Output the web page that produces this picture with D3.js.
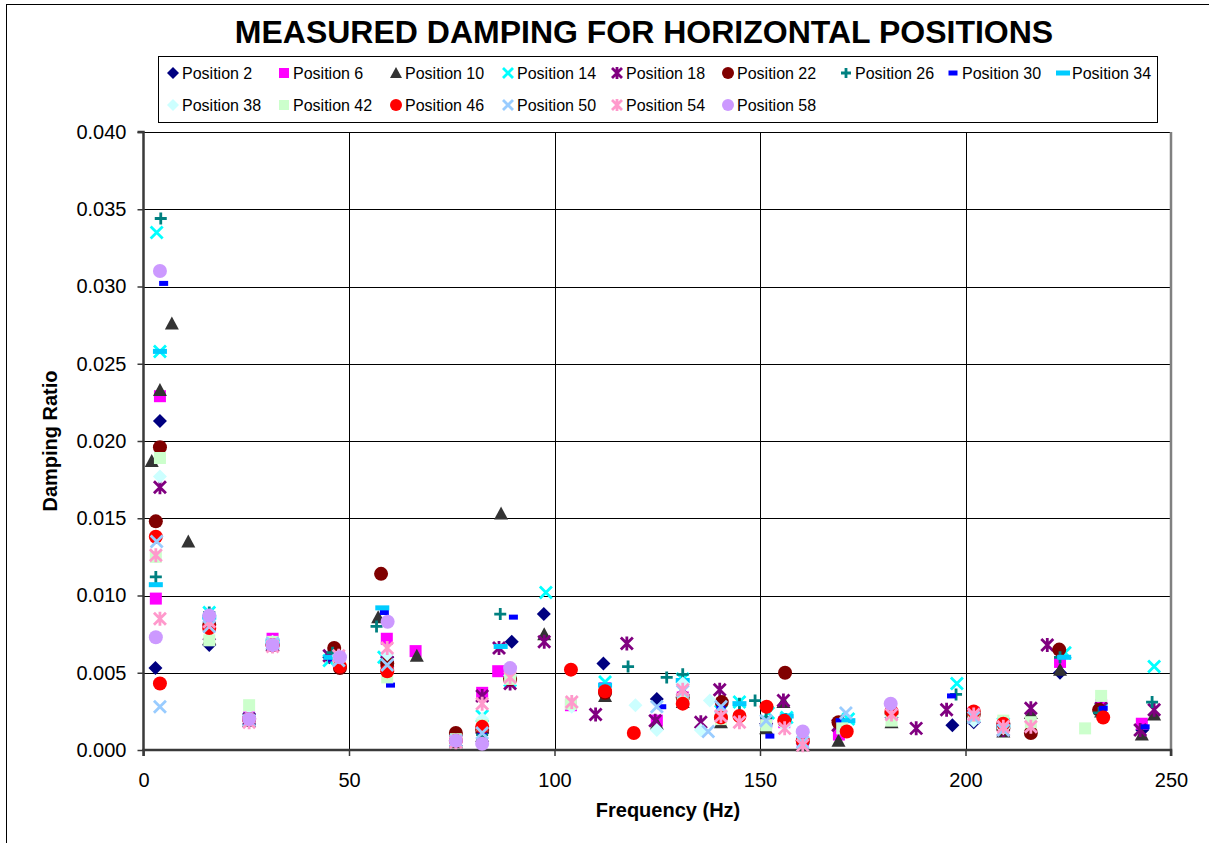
<!DOCTYPE html>
<html><head><meta charset="utf-8">
<script src="https://cdn.jsdelivr.net/npm/d3@7"></script>
<style>
body{margin:0;background:#fff;}
text{font-family:"Liberation Sans",Arial,sans-serif;}
</style></head>
<body><svg id="c" width="1209" height="843"></svg>
<script>
// ---------- data ----------
const seriesNames = ["Position 2","Position 6","Position 10","Position 14","Position 18","Position 22","Position 26","Position 30","Position 34","Position 38","Position 42","Position 46","Position 50","Position 54","Position 58"];
const xTicks = [0,50,100,150,200,250];
const yTicks = [0,0.005,0.010,0.015,0.020,0.025,0.030,0.035,0.040];

const pos2 = [[2.9,0.0053],[4.0,0.0213],[16,0.0068],[25.7,0.0021],[31.4,0.0068],[45.2,0.0060],[59.3,0.0060],[76,0.0006],[82.4,0.0011],[89.6,0.0070],[97.4,0.0088],[111.9,0.0056],[124.9,0.0033],[131.2,0.0036],[140.5,0.0020],[151.5,0.0017],[160.4,0.0004],[169.5,0.0015],[182,0.0021],[196.8,0.0016],[202,0.0018],[209.2,0.0013],[223,0.0050],[233,0.0024],[243,0.0013]];
const pos6 = [[3.0,0.0098],[4.0,0.0229],[16,0.0080],[25.7,0.0021],[31.4,0.0072],[47.5,0.0060],[59.2,0.0072],[66.2,0.0064],[76,0.0006],[82.4,0.0037],[86.3,0.0051],[104,0.0029],[112.3,0.0040],[124.9,0.0019],[131.2,0.0034],[140.5,0.0022],[151.5,0.0018],[155.9,0.0018],[160.4,0.0005],[169.2,0.0010],[182,0.0023],[202,0.0024],[209.2,0.0016],[223,0.0057],[233,0.0029],[242.9,0.0017]];
const pos10 = [[2.0,0.0187],[4.0,0.0233],[6.9,0.0276],[10.9,0.0135],[16,0.0072],[25.7,0.0019],[31.4,0.0068],[46.5,0.0062],[57.1,0.0086],[59.3,0.0058],[66.5,0.0061],[76,0.0005],[82.4,0.0009],[87.0,0.0153],[97.5,0.0075],[112.3,0.0035],[124.9,0.0017],[131.2,0.0031],[140.5,0.0018],[151.5,0.0014],[155.7,0.0031],[160.4,0.0003],[169.1,0.0006],[182,0.0018],[209.2,0.0012],[215.9,0.0024],[223,0.0052],[233,0.0025],[242.9,0.0010],[245.9,0.0023]];
const pos14 = [[3.2,0.0335],[4.0,0.0258],[16,0.0089],[25.7,0.0020],[31.4,0.0069],[45.2,0.0058],[58.5,0.0060],[76,0.0006],[82.4,0.0022],[89.2,0.0045],[97.9,0.0102],[112.3,0.0044],[131.2,0.0046],[140.5,0.0025],[145.0,0.0031],[152,0.0024],[156.5,0.0021],[160.4,0.0008],[171.5,0.0020],[197.9,0.0043],[202,0.0022],[209.2,0.0017],[224.2,0.0063],[233,0.0026],[245.9,0.0054]];
const pos18 = [[4.0,0.0170],[16,0.0075],[25.7,0.0020],[31.4,0.0068],[45.2,0.0061],[59.3,0.0057],[76,0.0006],[82.4,0.0035],[86.5,0.0066],[89.2,0.0043],[97.5,0.0070],[110.0,0.0023],[117.6,0.0069],[124.5,0.0019],[135.6,0.0018],[140.2,0.0039],[155.7,0.0032],[169,0.0016],[188.0,0.0014],[195.4,0.0026],[202,0.0021],[209.2,0.0013],[215.9,0.0027],[219.9,0.0068],[233,0.0027],[242.5,0.0013],[245.9,0.0026]];
const pos22 = [[3.0,0.0148],[4.0,0.0196],[16,0.0081],[25.7,0.0020],[31.4,0.0068],[46.4,0.0066],[47.8,0.0053],[57.8,0.0114],[59.3,0.0056],[76,0.0011],[82.4,0.0013],[89.2,0.0046],[112.3,0.0037],[131.2,0.0034],[140.7,0.0031],[156.1,0.0050],[160.4,0.0006],[169.1,0.0018],[182,0.0024],[202,0.0023],[209.2,0.0014],[215.9,0.0011],[222.8,0.0065],[232.5,0.0026]];
const pos26 = [[3.0,0.0112],[4.2,0.0344],[16,0.0089],[25.7,0.0019],[31.4,0.0067],[46,0.0063],[56.7,0.0080],[76,0.0005],[82.4,0.0010],[86.8,0.0088],[117.9,0.0054],[127.3,0.0047],[131.2,0.0049],[145,0.0030],[148.8,0.0032],[151.5,0.0021],[156.3,0.0020],[170,0.0019],[182,0.0022],[197.7,0.0036],[202,0.0024],[209.2,0.0015],[223,0.0060],[232.5,0.0024],[245.4,0.0031]];
const pos30 = [[4.9,0.0302],[16,0.0083],[31.4,0.0069],[46,0.0059],[58.6,0.0089],[60.1,0.0042],[82.4,0.0012],[90.0,0.0086],[126.1,0.0028],[140.5,0.0027],[152.4,0.0009],[169.5,0.0019],[196.6,0.0035],[202,0.0020],[233.5,0.0027],[243.7,0.0015]];
const pos34 = [[3.0,0.0107],[4.0,0.0258],[16,0.0086],[31.4,0.0070],[45.5,0.0060],[58.1,0.0092],[86.9,0.0067],[112.3,0.0042],[131.2,0.0045],[145,0.0030],[156.5,0.0022],[171.5,0.0019],[209.2,0.0016],[224,0.0060]];
const pos38 = [[4.0,0.0177],[16,0.0078],[25.7,0.0022],[31.4,0.0070],[47.5,0.0061],[59.3,0.0062],[76,0.0006],[82.4,0.0020],[89.2,0.0048],[104.2,0.0028],[119.7,0.0029],[124.9,0.0013],[131.2,0.0043],[135.6,0.0013],[137.8,0.0032],[140.5,0.0024],[156,0.0016],[160.4,0.0007],[182,0.0022],[202,0.0019],[209.2,0.0014]];
const pos42 = [[3.0,0.0125],[4.0,0.0189],[16,0.0071],[25.7,0.0029],[31.4,0.0070],[47.5,0.0058],[59.3,0.0047],[76,0.0007],[82.4,0.0016],[89.2,0.0046],[104,0.0030],[131.2,0.0033],[140.5,0.0020],[151.5,0.0016],[160.4,0.0008],[170,0.0014],[182,0.0019],[202,0.0022],[209.2,0.0019],[215.9,0.0018],[229.1,0.0014],[233.0,0.0035]];
const pos46 = [[4.0,0.0043],[3.0,0.0138],[16,0.0079],[25.7,0.0020],[31.4,0.0068],[47.8,0.0054],[59.3,0.0051],[76,0.0006],[82.4,0.0015],[104.0,0.0052],[112.3,0.0038],[119.3,0.0011],[131.2,0.0030],[140.5,0.0021],[145.0,0.0022],[151.6,0.0028],[155.9,0.0019],[160.4,0.0006],[171.1,0.0012],[182,0.0025],[202,0.0025],[209.2,0.0017],[233.5,0.0021]];
const pos50 = [[3.2,0.0135],[4.0,0.0028],[16,0.0080],[25.7,0.0019],[31.4,0.0069],[47.5,0.0058],[59.3,0.0055],[76,0.0006],[82.4,0.0011],[124.9,0.0028],[131.2,0.0038],[137.4,0.0012],[140.5,0.0028],[151.5,0.0019],[160.4,0.0005],[170.9,0.0024],[202,0.0021],[209.2,0.0013]];
const pos54 = [[3.0,0.0126],[4.0,0.0085],[16,0.0083],[25.7,0.0018],[31.4,0.0067],[47.5,0.0061],[59.3,0.0066],[76,0.0005],[82.4,0.0030],[89.2,0.0047],[104.2,0.0031],[131.2,0.0039],[140.5,0.0022],[145,0.0018],[156,0.0014],[160.4,0.0003],[182,0.0023],[202,0.0023],[209.2,0.0015],[215.9,0.0015]];
const pos58 = [[4.0,0.0310],[3.0,0.0073],[16,0.0087],[25.7,0.0020],[31.4,0.0068],[47.8,0.0060],[59.4,0.0083],[76,0.0006],[82.4,0.0004],[89.2,0.0053],[160.4,0.0012],[181.8,0.0030]];
const seriesValues = [pos2,pos6,pos10,pos14,pos18,pos22,pos26,pos30,pos34,pos38,pos42,pos46,pos50,pos54,pos58];

// ---------- styles ----------
const styles = [
  {shape:"diamond", color:"#000080"},
  {shape:"square", color:"#FF00FF"},
  {shape:"triangle", color:"#333333"},
  {shape:"x", color:"#00FFFF"},
  {shape:"star", color:"#800080"},
  {shape:"circle", color:"#800000"},
  {shape:"plus", color:"#008080"},
  {shape:"dash", color:"#0000FF"},
  {shape:"longdash", color:"#00CCFF"},
  {shape:"diamond", color:"#CCFFFF"},
  {shape:"square", color:"#CCFFCC"},
  {shape:"circle", color:"#FF0000"},
  {shape:"x", color:"#99CCFF"},
  {shape:"star", color:"#FF99CC"},
  {shape:"circle", color:"#CC99FF"}
];

const svg = d3.select("#c");
// outer frame
svg.append("rect").attr("x",6.5).attr("y",4.5).attr("width",1240).attr("height",880)
  .attr("fill","#fff").attr("stroke","#000").attr("stroke-width",1);

const L=143.5, R=1171, T=132, B=750;
const x = d3.scaleLinear().domain([0,250]).range([L,R]);
const y = d3.scaleLinear().domain([0,0.04]).range([B,T]);

// gridlines
svg.append("g").selectAll("line").data(yTicks.filter(d=>d>0)).join("line")
  .attr("x1",L).attr("x2",R).attr("y1",d=>Math.round(y(d))+0.5).attr("y2",d=>Math.round(y(d))+0.5)
  .attr("stroke","#000").attr("stroke-width",1);
svg.append("g").selectAll("line").data(xTicks.filter(d=>d>0&&d<250)).join("line")
  .attr("y1",T).attr("y2",B).attr("x1",d=>Math.round(x(d))+0.5).attr("x2",d=>Math.round(x(d))+0.5)
  .attr("stroke","#000").attr("stroke-width",1);
// right border of plot area
svg.append("line").attr("x1",R).attr("x2",R).attr("y1",T).attr("y2",B).attr("stroke","#808080").attr("stroke-width",2.5);

// axes
const yAxis = d3.axisLeft(y).tickValues(yTicks).tickFormat(d3.format(".3f")).tickSize(6).tickPadding(11);
const xAxis = d3.axisBottom(x).tickValues(xTicks).tickFormat(d3.format("d")).tickSize(6).tickPadding(17);
const gy = svg.append("g").attr("transform",`translate(${L},0)`).call(yAxis);
const gx = svg.append("g").attr("transform",`translate(0,${B})`).call(xAxis);
[gx,gy].forEach(g=>{
  g.select(".domain").attr("stroke","#3a3a3a").attr("stroke-width",2.5);
  g.selectAll(".tick line").attr("stroke","#3a3a3a").attr("stroke-width",1.5);
  g.selectAll(".tick text").attr("font-size",20).attr("fill","#000").style("font-family","'Liberation Sans',Arial,sans-serif");
});
gy.select(".domain").attr("d",`M-6,${T}H0V${B}`);
gx.select(".domain").attr("d",`M${L},6V0H${R}V6`);

// marker drawer
function drawMarker(g, shape, color, s){
  const h=s/2;
  switch(shape){
    case "diamond": g.append("path").attr("d",`M0,${-h-1}L${h+1},0L0,${h+1}L${-h-1},0Z`).attr("fill",color); break;
    case "square": g.append("rect").attr("x",-h).attr("y",-h).attr("width",s).attr("height",s).attr("fill",color); break;
    case "triangle": g.append("path").attr("d",`M0,${-h-1}L${h+1},${h}L${-h-1},${h}Z`).attr("fill",color); break;
    case "circle": g.append("circle").attr("r",h+1).attr("fill",color); break;
    case "x": g.append("path").attr("d",`M${-h},${-h}L${h},${h}M${-h},${h}L${h},${-h}`).attr("stroke",color).attr("stroke-width",2.8).attr("fill","none"); break;
    case "star": g.append("path").attr("d",`M${-h},${-h}L${h},${h}M${-h},${h}L${h},${-h}M0,${-h-1}L0,${h+1}`).attr("stroke",color).attr("stroke-width",2.8).attr("fill","none"); break;
    case "plus": g.append("path").attr("d",`M${-h},0L${h},0M0,${-h}L0,${h}`).attr("stroke",color).attr("stroke-width",2.8).attr("fill","none"); break;
    case "dash": g.append("rect").attr("x",-4.5).attr("y",-2.5).attr("width",9).attr("height",5).attr("fill",color); break;
    case "longdash": g.append("rect").attr("x",-7).attr("y",-2.5).attr("width",14).attr("height",5).attr("fill",color); break;
  }
}

// points
seriesValues.forEach((vals,i)=>{
  const st=styles[i];
  const g = svg.append("g").attr("class","series");
  vals.forEach(v=>{
    const m = g.append("g").attr("transform",`translate(${x(v[0])},${y(v[1])})`);
    drawMarker(m, st.shape, st.color, 12);
  });
});

// title
svg.append("text").attr("x",644).attr("y",43).attr("text-anchor","middle")
  .attr("font-size",32).attr("font-weight","bold").text("MEASURED DAMPING FOR HORIZONTAL POSITIONS");
// axis titles
svg.append("text").attr("x",668).attr("y",817).attr("text-anchor","middle")
  .attr("font-size",20).attr("font-weight","bold").text("Frequency (Hz)");
svg.append("text").attr("transform","translate(57,441) rotate(-90)").attr("text-anchor","middle")
  .attr("font-size",20).attr("font-weight","bold").text("Damping Ratio");

// legend
svg.append("rect").attr("x",158.5).attr("y",56.5).attr("width",999).attr("height",66)
  .attr("fill","#fff").attr("stroke","#000").attr("stroke-width",1);
const legCols = [173,284,396,508,617,728,846,953,1063];
const legRows = [73,105];
seriesNames.forEach((name,i)=>{
  const row = i<9?0:1, col = i<9?i:i-9;
  const lx = legCols[col], ly = legRows[row];
  const m = svg.append("g").attr("transform",`translate(${lx},${ly})`);
  drawMarker(m, styles[i].shape, styles[i].color, 10);
  svg.append("text").attr("x",lx+9).attr("y",ly+5.5).attr("font-size",16).text(name);
});
</script></body></html>
